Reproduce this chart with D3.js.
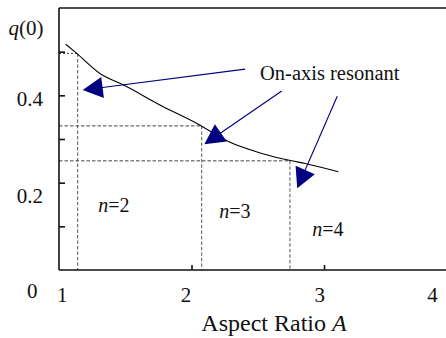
<!DOCTYPE html>
<html><head><meta charset="utf-8">
<script src="https://cdn.jsdelivr.net/npm/d3@7"></script>
<style>html,body{margin:0;padding:0;background:#fff;} svg{display:block;}</style>
</head><body>
<script>
// ---- data ----
const curveA = [1.051, 1.134, 1.309, 1.485, 1.762, 2.051, 2.278, 2.530, 2.756, 2.857, 3.108];
const curveQ = [0.517, 0.496, 0.450, 0.424, 0.378, 0.334, 0.294, 0.267, 0.250, 0.244, 0.225];
const resonanceN = ["2", "3", "4"];
const resonanceA = [1.141, 2.077, 2.743];
const resonanceQ = [0.496, 0.330, 0.250];
const nLabelA = [1.415, 2.328, 3.03];
const nLabelQ = [0.1335, 0.119, 0.078];
const arrowStartA = [2.404, 2.681, 3.100];
const arrowStartQ = [0.460, 0.410, 0.398];
const arrowTipA = [1.179, 2.097, 2.798];
const arrowTipQ = [0.412, 0.288, 0.187];
const annotation = "On-axis resonant";
const annotationA = 2.517, annotationQ = 0.435;
const xTickValues = [2, 3];
const xTickLabels = ["1", "2", "3", "4"];
const yTickValues = [0.1, 0.2, 0.3, 0.4, 0.5];
const yTickLabels = ["0.2", "0.4"];
const xTitle = "Aspect Ratio ";
const xTitleItalic = "A";

// ---- chart ----
const W = 446, H = 338;
const svg = d3.select("body").append("svg").attr("width", W).attr("height", H)
  .style("font-family", "'Liberation Serif', 'Times New Roman', serif");
svg.append("rect").attr("width", W).attr("height", H).attr("fill", "#fff");

const x = d3.scaleLinear().domain([1, 4]).range([59, 456.5]);
const y = d3.scaleLinear().domain([0, 0.6]).range([270, 8]);

// resonance guide lines
const g = svg.append("g");
resonanceA.forEach((a, i) => {
  const dash = i === 0 ? "2,2" : "3.5,2";
  g.append("line").attr("x1", x(1)).attr("x2", x(a)).attr("y1", y(resonanceQ[i])).attr("y2", y(resonanceQ[i]))
    .attr("stroke", "#444").attr("stroke-width", 1).attr("stroke-dasharray", dash);
  g.append("line").attr("x1", x(a)).attr("x2", x(a)).attr("y1", y(resonanceQ[i])).attr("y2", y(0))
    .attr("stroke", "#555").attr("stroke-width", 1).attr("stroke-dasharray", "3.5,2");
});

// curve
const pts = curveA.map((a, i) => [a, curveQ[i]]);
svg.append("path").datum(pts)
  .attr("d", d3.line().x(d => x(d[0])).y(d => y(d[1])).curve(d3.curveMonotoneX))
  .attr("fill", "none").attr("stroke", "#000").attr("stroke-width", 1.1);

// frame
svg.append("line").attr("x1", x(1)).attr("x2", W).attr("y1", y(0.6)).attr("y2", y(0.6)).attr("stroke", "#111").attr("stroke-width", 1.4);
svg.append("line").attr("x1", x(1)).attr("x2", W).attr("y1", y(0)).attr("y2", y(0)).attr("stroke", "#111").attr("stroke-width", 1.6);
svg.append("line").attr("x1", x(1)).attr("x2", x(1)).attr("y1", y(0.6)).attr("y2", y(0)).attr("stroke", "#111").attr("stroke-width", 1.6);

// ticks
svg.append("g").attr("transform", `translate(${x(1)},0)`)
  .call(d3.axisLeft(y).tickValues(yTickValues).tickSize(-6).tickFormat(""))
  .call(s => { s.select(".domain").remove(); s.selectAll("line").attr("stroke", "#111").attr("stroke-width", 1.6); });
svg.append("g").attr("transform", `translate(0,${y(0)})`)
  .call(d3.axisBottom(x).tickValues(xTickValues).tickSize(-5).tickFormat(""))
  .call(s => { s.select(".domain").remove(); s.selectAll("line").attr("stroke", "#111").attr("stroke-width", 1.6); });

// tick labels
const xLabelShift = {"1": 3.3, "2": -5.5, "3": -4.3, "4": -24};
svg.selectAll(".xl").data(xTickLabels).join("text")
  .attr("x", d => x(+d) + xLabelShift[d]).attr("y", y(0) + 32)
  .attr("text-anchor", "middle").attr("font-size", 21).attr("fill", "#111").text(d => d);
const yLabelShift = {"0.2": 20.6, "0.4": 10.7};
svg.selectAll(".yl").data(yTickLabels).join("text")
  .attr("x", 43).attr("y", d => y(+d) + yLabelShift[d])
  .attr("text-anchor", "end").attr("font-size", 21).attr("fill", "#111").text(d => d);
svg.append("text").attr("x", 37.5).attr("y", y(0) + 28.3).attr("text-anchor", "end")
  .attr("font-size", 21).attr("fill", "#111").text("0");
const yt = svg.append("text").attr("x", 43.5).attr("y", 35).attr("text-anchor", "end")
  .attr("font-size", 21).attr("fill", "#111");
yt.append("tspan").attr("font-style", "italic").text("q");
yt.append("tspan").text("(0)");

// axis title
const xt = svg.append("text").attr("x", 274).attr("y", 330.5).attr("text-anchor", "middle")
  .attr("font-size", 24).attr("fill", "#111");
xt.append("tspan").text(xTitle);
xt.append("tspan").attr("font-style", "italic").text(xTitleItalic);

// n labels
resonanceN.forEach((n, i) => {
  const t = svg.append("text").attr("x", x(nLabelA[i])).attr("y", y(nLabelQ[i]))
    .attr("text-anchor", "middle").attr("font-size", 20).attr("fill", "#111");
  t.append("tspan").attr("font-style", "italic").text("n");
  t.append("tspan").text("=" + n);
});

// annotation
svg.append("text").attr("x", x(annotationA)).attr("y", y(annotationQ))
  .attr("font-size", 20.5).attr("fill", "#111").text(annotation);

// arrows
const navy = "#000080";
arrowStartA.forEach((a, i) => {
  const x0 = x(a), y0 = y(arrowStartQ[i]);
  const x1 = x(arrowTipA[i]), y1 = y(arrowTipQ[i]);
  const dx = x1 - x0, dy = y1 - y0, L = Math.hypot(dx, dy);
  const ux = dx / L, uy = dy / L, px = -uy, py = ux;
  const hl = 20, hw = 10.5;
  const bx = x1 - ux * hl, by = y1 - uy * hl;
  svg.append("line").attr("x1", x0).attr("y1", y0).attr("x2", bx + ux * 2).attr("y2", by + uy * 2)
    .attr("stroke", navy).attr("stroke-width", 1.1);
  svg.append("polygon")
    .attr("points", [[x1, y1], [bx + px * hw, by + py * hw], [bx - px * hw, by - py * hw]].map(p => p.join(",")).join(" "))
    .attr("fill", navy);
});
</script>
</body></html>
